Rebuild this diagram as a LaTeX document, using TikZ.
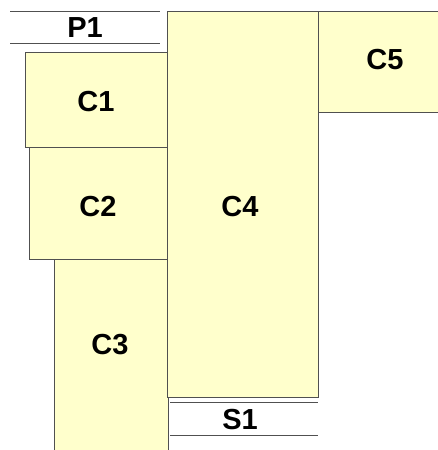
\documentclass[tikz,border=0pt]{standalone}
\usepackage{fontspec}
\setmainfont{Liberation Sans}
\definecolor{boxfill}{HTML}{FFFFCC}
\definecolor{edge}{HTML}{505050}
\tikzset{
  box/.style={draw=edge, fill=boxfill, line width=1pt, rectangle, inner sep=0pt, outer sep=0pt},
  lbl/.style={font=\fontsize{29}{33}\selectfont\bfseries, inner sep=0pt},
  rule/.style={draw=edge, line width=1pt}
}
\begin{document}
\begin{tikzpicture}[x=1pt,y=-1pt]
\useasboundingbox (0,0) rectangle (438,450);
% boxes
\node[box, minimum width=142pt, minimum height=95pt, anchor=north west] (c1) at (25,52) {};
\node[box, minimum width=138pt, minimum height=112pt, anchor=north west] (c2) at (29,147) {};
\node[box, minimum width=114pt, minimum height=200pt, anchor=north west] (c3) at (54,259) {};
\node[box, minimum width=151pt, minimum height=386pt, anchor=north west] (c4) at (167,11) {};
\node[box, minimum width=130pt, minimum height=101pt, anchor=north west] (c5) at (318,11) {};
% rules
\coordinate (p1a) at (10,11); \coordinate (p1b) at (160,11);
\coordinate (p1c) at (10,43); \coordinate (p1d) at (160,43);
\draw[rule] (p1a) -- (p1b);
\draw[rule] (p1c) -- (p1d);
\coordinate (s1a) at (170,402); \coordinate (s1b) at (318,402);
\coordinate (s1c) at (170,435); \coordinate (s1d) at (318,435);
\draw[rule] (s1a) -- (s1b);
\draw[rule] (s1c) -- (s1d);
% labels
\node[lbl] (tp1) at (85,28) {P1};
\node[lbl] (tc1) at (96,102) {C1};
\node[lbl] (tc2) at (98,207) {C2};
\node[lbl] (tc3) at (110,345) {C3};
\node[lbl] (tc4) at (240,207) {C4};
\node[lbl] (tc5) at (385,60) {C5};
\node[lbl] (ts1) at (240,420) {S1};
\end{tikzpicture}
\end{document}
